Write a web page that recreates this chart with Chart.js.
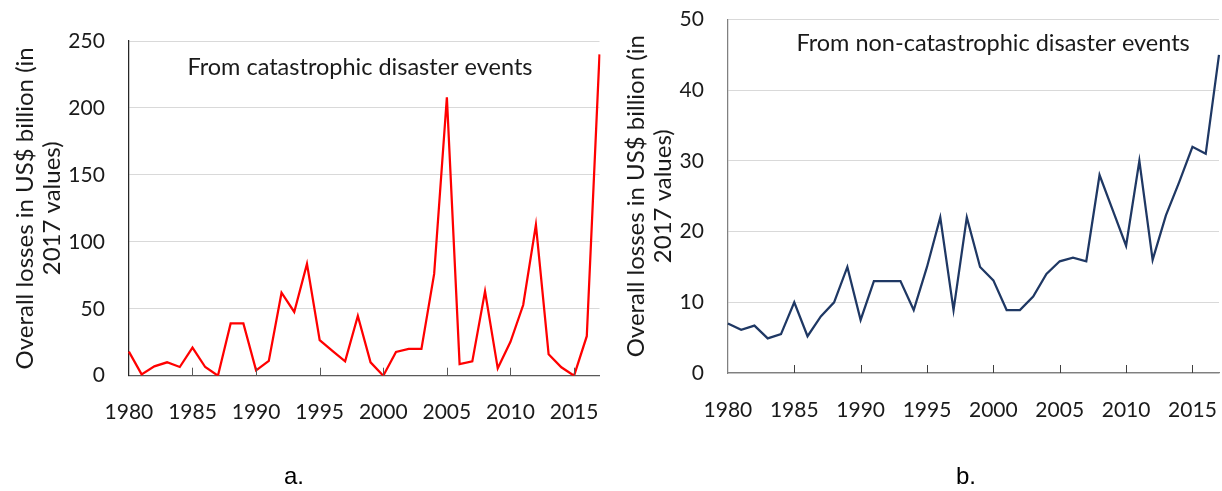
<!DOCTYPE html>
<html>
<head>
<meta charset="utf-8">
<script src="https://cdn.jsdelivr.net/npm/chart.js@4"></script>
<style>
  html, body { margin: 0; padding: 0; background: #fff; }
  body { width: 1222px; height: 491px; position: relative; overflow: hidden; }
  .panel { position: absolute; top: 0; height: 491px; }
  #panelA { left: 0; width: 610px; }
  #panelB { left: 610px; width: 612px; }
  .caption { position: absolute; top: 462px; font-family: "Liberation Sans", Arial, sans-serif; font-size: 24px; color: #000; }
  #capA { left: 284px; }
  #capB { left: 956px; }
</style>
</head>
<body>
<div class="panel" id="panelA"><canvas id="chartA"></canvas></div>
<div class="panel" id="panelB"><canvas id="chartB"></canvas></div>
<div class="caption" id="capA">a.</div>
<div class="caption" id="capB">b.</div>
<script>
// Years on the category axis
const years = [];
for (let y = 1980; y <= 2017; y++) years.push(String(y));

// Overall losses, US$ billion (2017 values)
const catastrophicLosses = [18, 1, 7, 10, 6.5, 21, 6.5, 0, 39, 39, 4, 11, 62, 47.6, 83.5, 26.5, 18.6, 10.7, 44.6, 10,
  0, 17.8, 20, 20, 76, 208, 8.7, 10.7, 63, 5.5, 25.3, 52.8, 112.7, 16, 6.3, 0, 29.5, 240];
const nonCatastrophicLosses = [7, 6.1, 6.7, 4.9, 5.5, 10, 5.2, 8, 10, 15, 7.5, 13, 13, 13, 8.9, 15, 22, 8.9, 22, 15,
  13.1, 8.9, 8.9, 10.8, 14, 15.8, 16.3, 15.8, 28, 23, 18, 30, 16, 22.3, 27, 32, 31, 45];

// Axis text
const yTitle = ['Overall losses in US$ billion (in', '2017 values)'];
const labelA = 'From catastrophic disaster events';
const labelB = 'From non-catastrophic disaster events';

const FONT = 'Lato, "Open Sans", sans-serif';

// Draws a caption inside the plot area and short inward tick marks on the x axis
const innerDecor = {
  id: 'innerDecor',
  afterDraw(chart, args, opts) {
    const { ctx, chartArea } = chart;
    const xs = chart.scales.x;
    ctx.save();
    ctx.strokeStyle = opts.tickColor;
    ctx.lineWidth = 1;
    xs.ticks.forEach((t) => {
      const lbl = years[t.value];
      if (+lbl % 5 !== 0 || +lbl === 1980) return;
      const px = Math.round(xs.getPixelForValue(t.value)) + 0.5;
      ctx.beginPath();
      ctx.moveTo(px, chartArea.bottom);
      ctx.lineTo(px, chartArea.bottom - opts.tickLen);
      ctx.stroke();
    });
    ctx.fillStyle = '#1a1a1a';
    ctx.font = opts.fontSize + 'px ' + FONT;
    ctx.textAlign = 'center';
    ctx.textBaseline = 'middle';
    ctx.fillText(opts.text, chartArea.left + chartArea.width * opts.fx, chartArea.top + opts.dy);
    ctx.restore();
  }
};

function makeChart(id, data, color, cfg) {
  return new Chart(document.getElementById(id), {
    type: 'line',
    data: {
      labels: years,
      datasets: [{
        data: data,
        borderColor: color,
        borderWidth: 2.25,
        pointRadius: 0,
        tension: 0,
        fill: false
      }]
    },
    options: {
      responsive: true,
      maintainAspectRatio: false,
      animation: false,
      layout: { padding: { top: cfg.padTop, right: cfg.padRight, left: 0, bottom: 0 } },
      plugins: {
        legend: { display: false },
        tooltip: { enabled: false },
        innerDecor: { text: cfg.text, fx: cfg.fx, dy: cfg.dy, fontSize: 23.5, tickLen: 8, tickColor: cfg.tickColor }
      },
      scales: {
        x: {
          type: 'category',
          offset: false,
          grid: { display: false },
          border: { display: true, color: cfg.xBorder, width: 1.25 },
          ticks: {
            autoSkip: false,
            maxRotation: 0,
            padding: cfg.xPad,
            color: '#1a1a1a',
            font: { family: FONT, size: 21 },
            callback: function (v) {
              const l = this.getLabelForValue(v);
              return (+l % 5 === 0) ? l : null;
            }
          },
          afterFit: s => {
            s.height = cfg.xHeight;
            s.paddingLeft = 0;
            s.paddingRight = 0;
          }
        },
        y: {
          min: 0,
          max: cfg.yMax,
          grid: { color: '#d9d9d9', lineWidth: 1, drawTicks: false },
          border: { display: true, color: cfg.yBorder, width: 1.25 },
          ticks: {
            stepSize: cfg.yStep,
            padding: 24,
            color: '#1a1a1a',
            font: { family: FONT, size: 21 }
          },
          title: {
            display: true,
            text: yTitle,
            color: '#1a1a1a',
            font: { family: FONT, size: 24, lineHeight: 1.125 },
            padding: { top: cfg.titlePad, bottom: 0 }
          },
          afterFit: s => {
            s.width = cfg.yWidth;
            s.paddingTop = 0;
            s.paddingBottom = 0;
          }
        }
      }
    },
    plugins: [innerDecor]
  });
}

makeChart('chartA', catastrophicLosses, '#ff0000', {
  padTop: 41, padRight: 10.5, xHeight: 115.3, yWidth: 128.9, yMax: 250, yStep: 50,
  xPad: 15.5, titlePad: 11.5, text: labelA, fx: 0.491, dy: 26,
  xBorder: '#595959', yBorder: '#262626', tickColor: '#595959'
});

makeChart('chartB', nonCatastrophicLosses, '#1f3864', {
  padTop: 19.5, padRight: 3, xHeight: 118, yWidth: 117.9, yMax: 50, yStep: 10,
  xPad: 16.5, titlePad: 12.5, text: labelB, fx: 0.54, dy: 23.5,
  xBorder: '#808080', yBorder: '#808080', tickColor: '#404040'
});
</script>
</body>
</html>
